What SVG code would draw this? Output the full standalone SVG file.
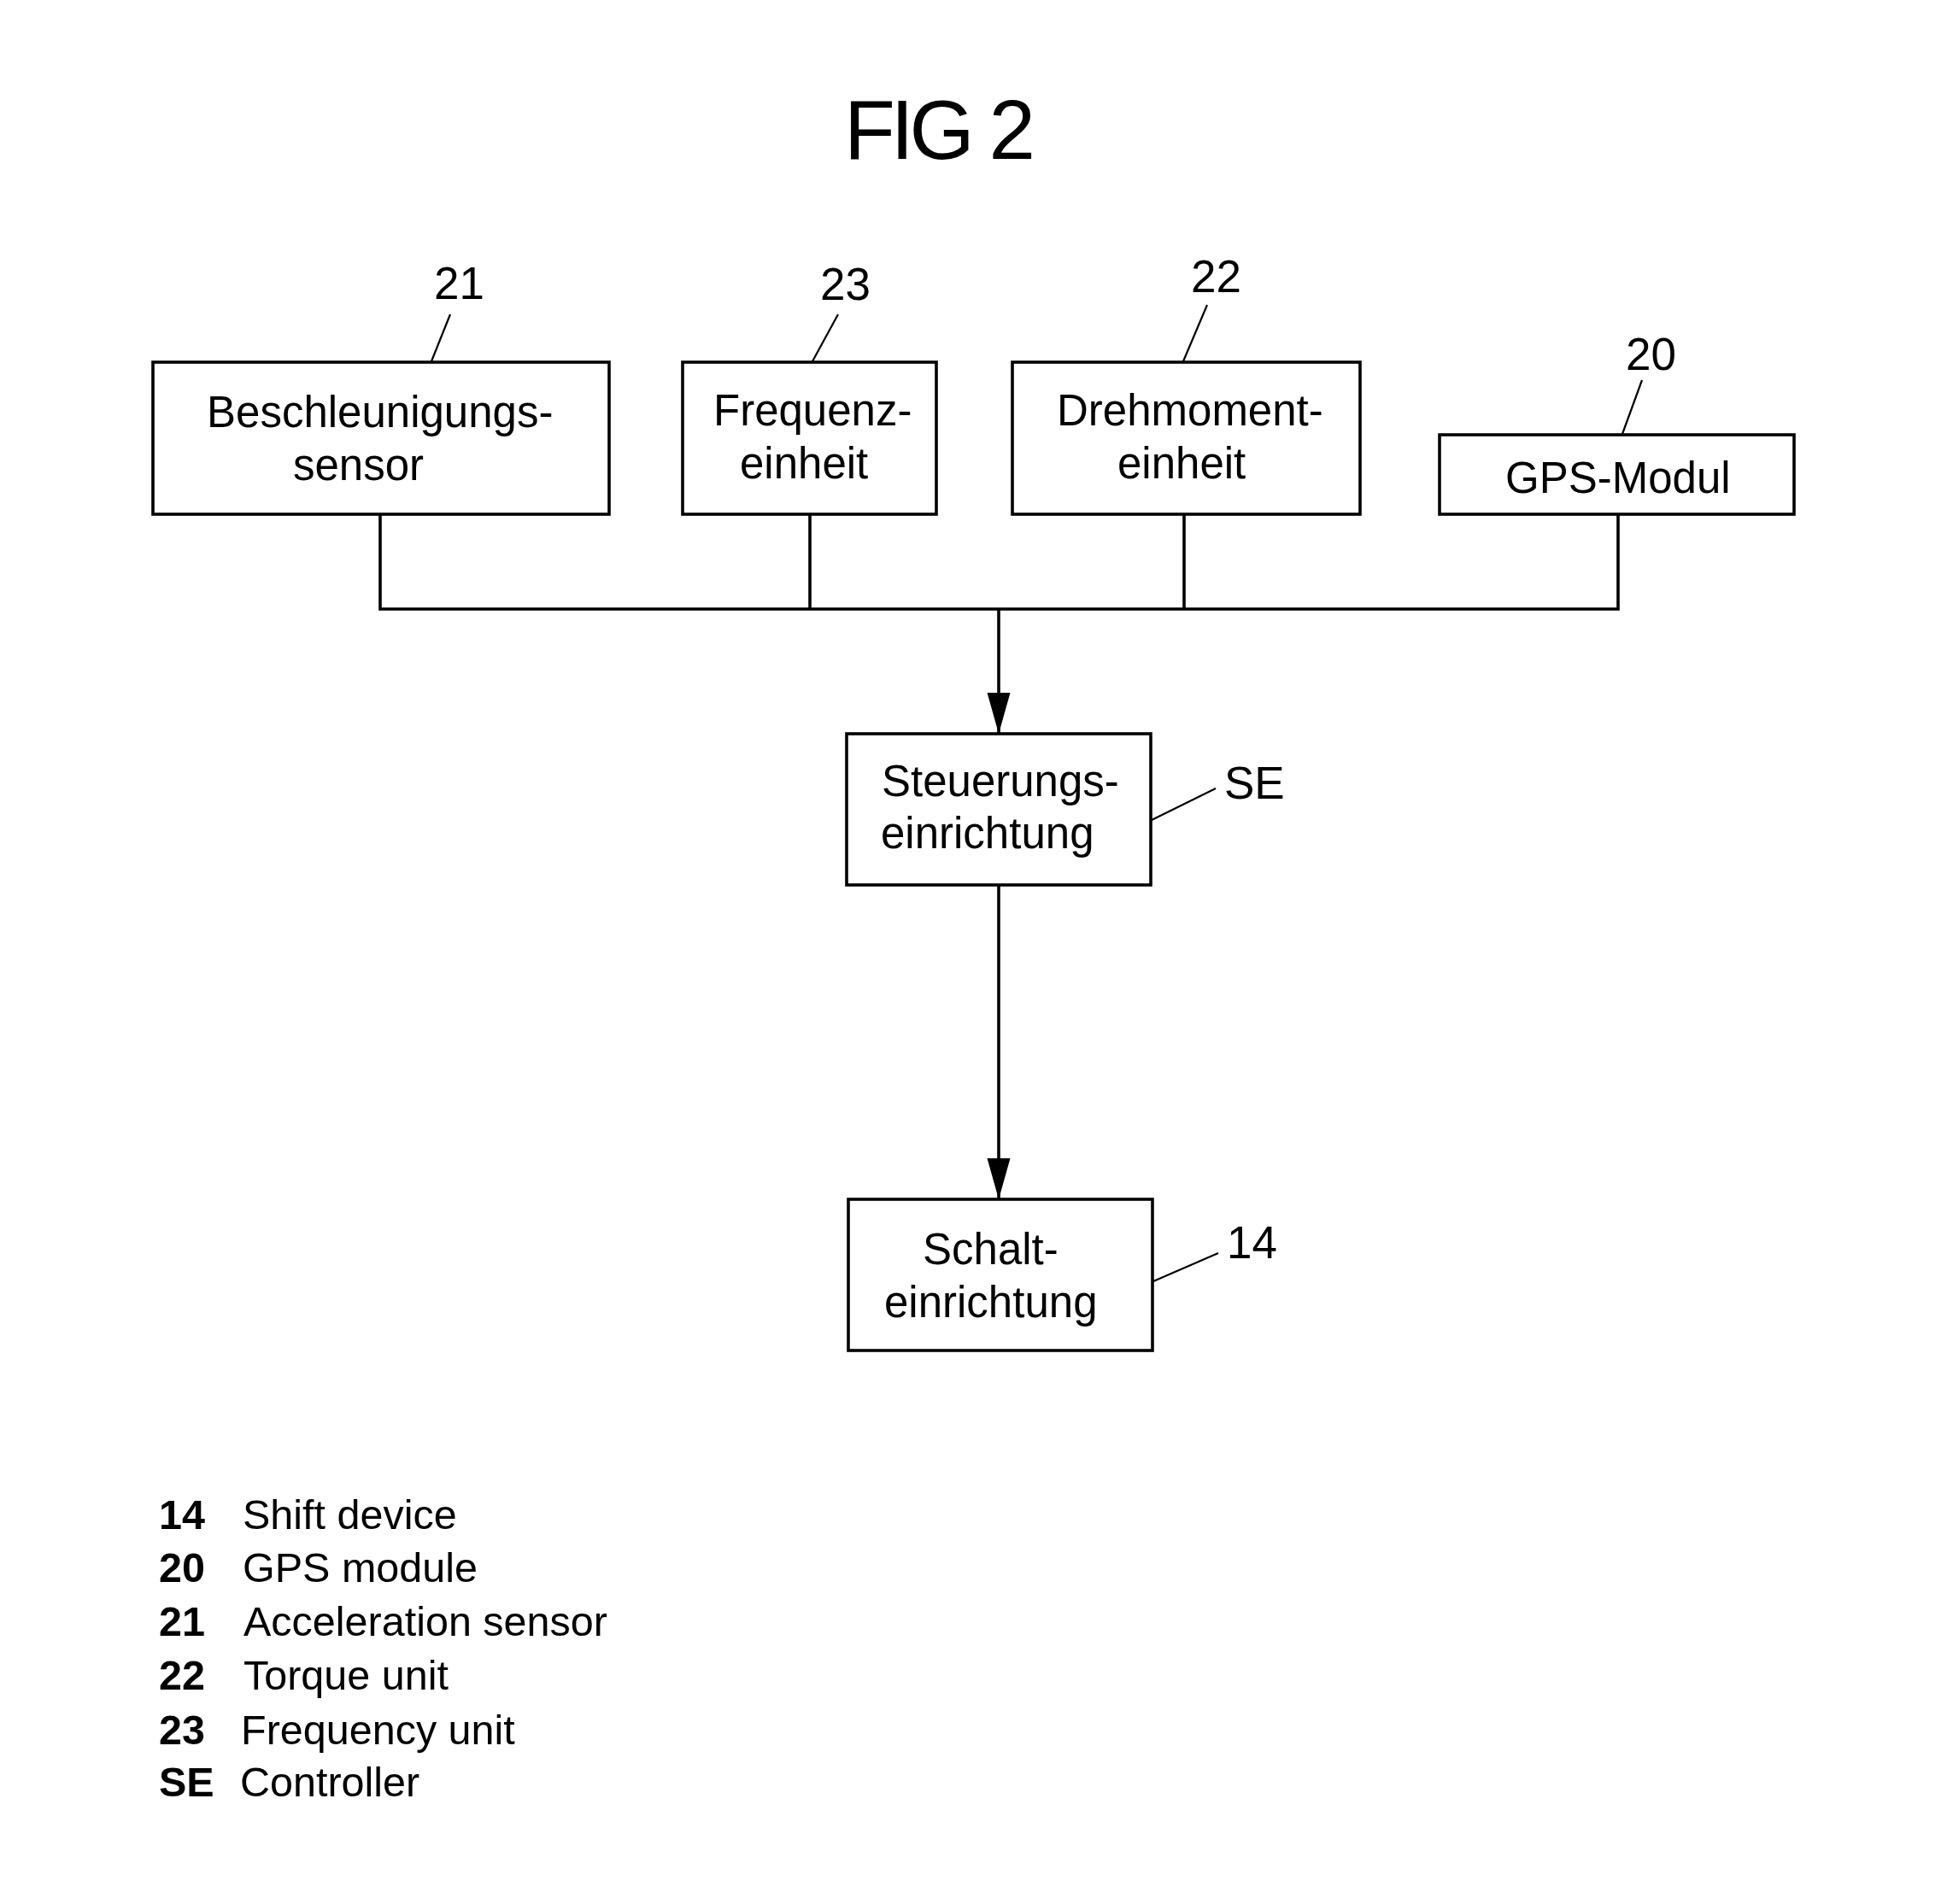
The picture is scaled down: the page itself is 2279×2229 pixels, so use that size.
<svg xmlns="http://www.w3.org/2000/svg" width="2279" height="2229" viewBox="0 0 2279 2229">
<style>
.box{fill:#fff;stroke:#000;stroke-width:3.6}
.t{font-family:"Liberation Sans",Arial,sans-serif;font-size:51px;fill:#000}
.num{font-family:"Liberation Sans",Arial,sans-serif;font-size:53px;fill:#000}
.lead{stroke:#000;stroke-width:2.2;fill:none}
.con{stroke:#000;stroke-width:3.6;fill:none}
.lg{font-family:"Liberation Sans",Arial,sans-serif;font-size:48.5px;fill:#000}
.lgb{font-family:"Liberation Sans",Arial,sans-serif;font-size:48.5px;font-weight:bold;fill:#000}
</style>
<defs>
<marker id="arr" markerUnits="userSpaceOnUse" markerWidth="50" markerHeight="30" viewBox="0 -15 50 30" refX="48" refY="0" orient="auto">
<path d="M0,-13.5 L48,0 L0,13.5 z" fill="#000"/>
</marker>
</defs>
<rect width="2279" height="2229" fill="#fff"/>
<text x="988" y="186" font-family="Liberation Sans, Arial, sans-serif" font-size="98" textLength="224" lengthAdjust="spacing">FIG 2</text>

<g id="connectors">
<polyline class="con" points="445,602 445,713 1894,713 1894,602"/>
<line class="con" x1="948" y1="602" x2="948" y2="713"/>
<line class="con" x1="1386" y1="602" x2="1386" y2="713"/>
<line class="con" x1="1169" y1="713" x2="1169" y2="859" marker-end="url(#arr)"/>
<line class="con" x1="1169" y1="1036" x2="1169" y2="1404" marker-end="url(#arr)"/>
</g>

<g id="node-21">
<rect class="box" x="179" y="424" width="534" height="178"/>
<text class="t" x="242" y="500">Beschleunigungs-</text>
<text class="t" x="343" y="562">sensor</text>
<line class="lead" x1="527" y1="368" x2="505" y2="423"/>
<text class="num" x="508" y="350">21</text>
</g>

<g id="node-23">
<rect class="box" x="799" y="424" width="297" height="178"/>
<text class="t" x="835" y="498">Frequenz-</text>
<text class="t" x="866" y="560">einheit</text>
<line class="lead" x1="981" y1="368" x2="951" y2="423"/>
<text class="num" x="960" y="351">23</text>
</g>

<g id="node-22">
<rect class="box" x="1185" y="424" width="407" height="178"/>
<text class="t" x="1237" y="498">Drehmoment-</text>
<text class="t" x="1308" y="560">einheit</text>
<line class="lead" x1="1413" y1="357" x2="1385" y2="423"/>
<text class="num" x="1394" y="342">22</text>
</g>

<g id="node-20">
<rect class="box" x="1685" y="509" width="415" height="93"/>
<text class="t" x="1762" y="577">GPS-Modul</text>
<line class="lead" x1="1922" y1="445" x2="1899" y2="508"/>
<text class="num" x="1903" y="433">20</text>
</g>

<g id="node-SE">
<rect class="box" x="991" y="859" width="356" height="177"/>
<text class="t" x="1032" y="932">Steuerungs-</text>
<text class="t" x="1031" y="993">einrichtung</text>
<line class="lead" x1="1348" y1="960" x2="1423" y2="923"/>
<text class="num" x="1433" y="935">SE</text>
</g>

<g id="node-14">
<rect class="box" x="993" y="1404" width="356" height="177"/>
<text class="t" x="1080" y="1480">Schalt-</text>
<text class="t" x="1035" y="1542">einrichtung</text>
<line class="lead" x1="1350" y1="1500" x2="1426" y2="1467"/>
<text class="num" x="1436" y="1473">14</text>
</g>

<g id="legend">
<text class="lgb" x="186" y="1790">14</text><text class="lg" x="284" y="1790">Shift device</text>
<text class="lgb" x="186" y="1852">20</text><text class="lg" x="284" y="1852">GPS module</text>
<text class="lgb" x="186" y="1915">21</text><text class="lg" x="285" y="1915">Acceleration sensor</text>
<text class="lgb" x="186" y="1978">22</text><text class="lg" x="285" y="1978">Torque unit</text>
<text class="lgb" x="186" y="2042">23</text><text class="lg" x="282" y="2042">Frequency unit</text>
<text class="lgb" x="186" y="2103">SE</text><text class="lg" x="281" y="2103">Controller</text>
</g>
</svg>
